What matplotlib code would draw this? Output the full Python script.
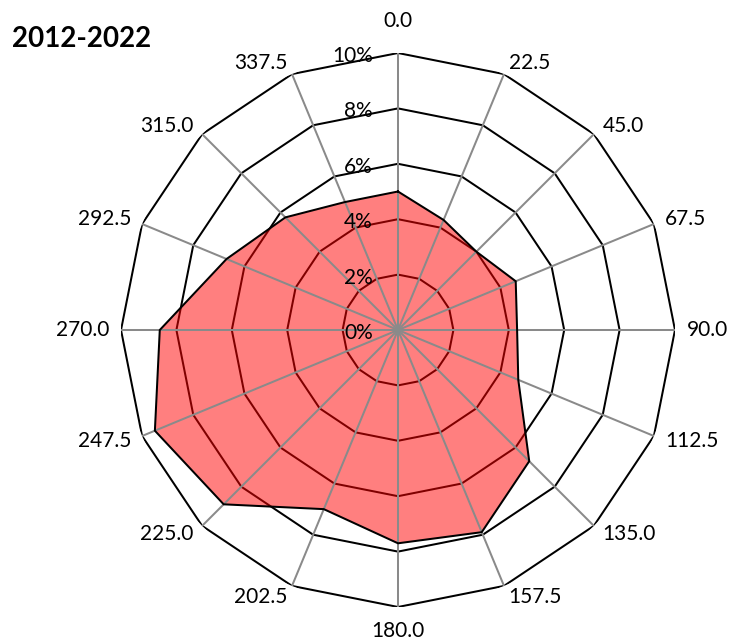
import numpy as np
import matplotlib
matplotlib.use("Agg")
import matplotlib.pyplot as plt
from matplotlib.transforms import offset_copy

# ---- data ----
directions = [0.0, 22.5, 45.0, 67.5, 90.0, 112.5, 135.0, 157.5,
              180.0, 202.5, 225.0, 247.5, 270.0, 292.5, 315.0, 337.5]
frequency_pct = [5.0, 4.3, 4.0, 4.6, 4.3, 4.7, 6.7, 7.9,
                 7.7, 7.0, 8.9, 9.5, 8.6, 6.7, 5.75, 5.0]
ring_values = [0, 2, 4, 6, 8, 10]
ring_labels = ["0%", "2%", "4%", "6%", "8%", "10%"]
title = "2012-2022"

W, H, DPI = 733, 643, 100
fig = plt.figure(figsize=(W / DPI, H / DPI), dpi=DPI)
plt.rcParams['font.family'] = ['Lato', 'DejaVu Sans']

cx, cy, R = 398, 330, 277
ax = fig.add_axes([(cx - R) / W, (H - cy - R) / H, 2 * R / W, 2 * R / H],
                  projection='polar')
ax.set_theta_zero_location('N')
ax.set_theta_direction(-1)
ax.set_ylim(0, 10)
ax.grid(False)
ax.spines['polar'].set_visible(False)
ax.set_xticks([])
ax.set_yticks([])
ax.patch.set_visible(False)

theta = np.deg2rad(directions)
theta_c = np.append(theta, theta[0])

LW = 1.45
# polygon rings
for rv in ring_values[1:]:
    ax.plot(theta_c, [rv] * len(theta_c), color='black', lw=LW, zorder=1)

# spokes
for t in theta:
    ax.plot([t, t], [0, ring_values[-1]], color='#8a8a8a', lw=LW, zorder=3)

vals_c = np.append(frequency_pct, frequency_pct[0])
ax.fill(theta_c, vals_c, color='red', alpha=0.5, lw=0, zorder=2)
ax.plot(theta_c, vals_c, color='black', lw=LW, zorder=4)

# radial labels
for rv, lab in zip(ring_values, ring_labels):
    tr = offset_copy(ax.transData, fig=fig, x=-25, y=-3, units='dots')
    ax.text(0, rv, lab, transform=tr, ha='right', va='center',
            fontsize=15, color='black', zorder=5)

# direction labels
for d, t in zip(directions, theta):
    s, c = np.sin(t), np.cos(t)
    if abs(s) < 1e-6:
        if c > 0:
            tr = offset_copy(ax.transData, fig=fig, x=0, y=22, units='dots')
            ax.text(t, 10, f"{d:.1f}", transform=tr, ha='center', va='bottom', fontsize=15)
        else:
            tr = offset_copy(ax.transData, fig=fig, x=0, y=-14, units='dots')
            ax.text(t, 10, f"{d:.1f}", transform=tr, ha='center', va='top', fontsize=15)
        continue
    ha = 'left' if s > 0 else 'right'
    dx = 12 * s
    dy = 12 * c
    tr = offset_copy(ax.transData, fig=fig, x=dx, y=dy, units='dots')
    ax.text(t, 10, f"{d:.1f}", transform=tr, ha=ha, va='center', fontsize=15)

fig.text(12 / W, 1 - 26 / H, title, ha='left', va='top', fontsize=20,
         fontweight='bold')

fig.savefig('out.png', dpi=DPI)
